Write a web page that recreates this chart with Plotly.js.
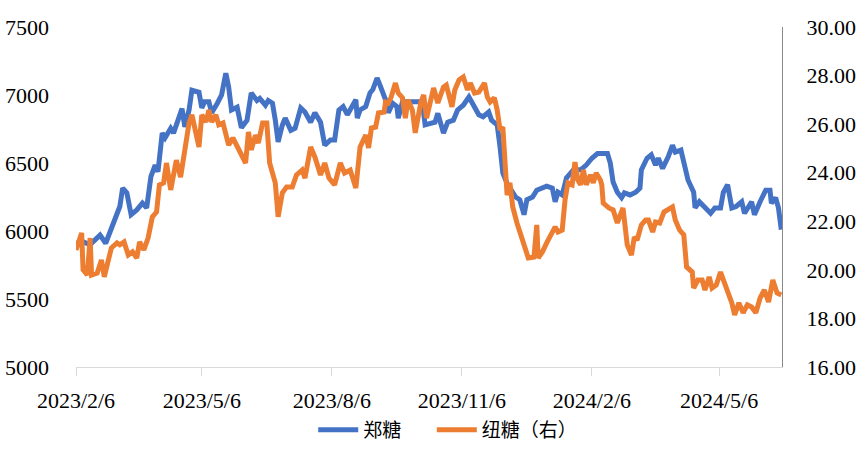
<!DOCTYPE html>
<html>
<head>
<meta charset="utf-8">
<script src="https://cdn.plot.ly/plotly-3.0.1.min.js"></script>
<style>
html,body{margin:0;padding:0;background:#fff;}
#chart{width:865px;height:454px;}
svg text{text-spacing-trim: space-all;}
</style>
</head>
<body>
<div id="chart"></div>
<script>
// 郑糖 (left axis)
const zzDates = ['2023-02-06','2023-02-11','2023-02-16','2023-02-23','2023-02-27','2023-03-02','2023-03-06','2023-03-09','2023-03-11','2023-03-14',
'2023-03-17','2023-03-21','2023-03-25','2023-03-28','2023-03-31','2023-04-03','2023-04-05','2023-04-08','2023-04-10','2023-04-14',
'2023-04-16','2023-04-19','2023-04-21','2023-04-22','2023-04-24','2023-04-27','2023-04-29','2023-05-04','2023-05-06','2023-05-08',
'2023-05-11','2023-05-13','2023-05-17','2023-05-20','2023-05-23','2023-05-25','2023-05-27','2023-05-31','2023-06-03','2023-06-07',
'2023-06-10','2023-06-14','2023-06-16','2023-06-20','2023-06-22','2023-06-25','2023-06-27','2023-06-29','2023-07-02','2023-07-04',
'2023-07-08','2023-07-11','2023-07-15','2023-07-18','2023-07-22','2023-07-25','2023-07-29','2023-08-01','2023-08-05','2023-08-08',
'2023-08-11','2023-08-14','2023-08-17','2023-08-20','2023-08-23','2023-08-24','2023-08-26','2023-08-30','2023-09-02','2023-09-04',
'2023-09-07','2023-09-09','2023-09-13','2023-09-15','2023-09-18','2023-09-21','2023-09-22','2023-09-25','2023-10-09','2023-10-11',
'2023-10-15','2023-10-18','2023-10-20','2023-10-24','2023-10-27','2023-10-31','2023-11-03','2023-11-07','2023-11-11','2023-11-14',
'2023-11-18','2023-11-21','2023-11-25','2023-11-27','2023-12-01','2023-12-03','2023-12-05','2023-12-08','2023-12-10','2023-12-14',
'2023-12-17','2023-12-20','2023-12-22','2023-12-26','2023-12-29','2024-01-02','2024-01-05','2024-01-09','2024-01-11','2024-01-13',
'2024-01-16','2024-01-19','2024-01-24','2024-01-29','2024-02-02','2024-02-06','2024-02-10','2024-02-17','2024-02-19','2024-02-21',
'2024-02-24','2024-02-27','2024-02-29','2024-03-04','2024-03-08','2024-03-11','2024-03-12','2024-03-16','2024-03-19','2024-03-22',
'2024-03-24','2024-03-27','2024-03-31','2024-04-03','2024-04-05','2024-04-09','2024-04-11','2024-04-14','2024-04-18','2024-04-19',
'2024-04-22','2024-04-26','2024-04-30','2024-05-03','2024-05-07','2024-05-09','2024-05-12','2024-05-15','2024-05-18','2024-05-22',
'2024-05-24','2024-05-29','2024-05-31','2024-06-04','2024-06-08','2024-06-11','2024-06-12','2024-06-15','2024-06-17','2024-06-19'];
const zzValues = [5910,5920,5900,5970,5910,5985,6100,6180,6315,6280,
6120,6155,6205,6170,6400,6485,6435,6720,6685,6755,
6720,6800,6850,6900,6765,6890,7035,7020,6905,6950,
6950,6870,6940,7000,7160,7060,6890,6910,6760,6815,
7015,6960,6975,6925,6960,6940,6815,6655,6780,6830,
6740,6755,6905,6875,6800,6870,6800,6630,6670,6670,
6890,6915,6855,6915,6965,6830,6890,6915,7015,7040,
7125,7075,6965,6870,6940,6915,6830,6950,6950,6780,
6795,6800,6865,6720,6800,6815,6890,6925,6985,6925,
6855,6840,6875,6815,6780,6620,6425,6350,6320,6250,
6230,6120,6230,6250,6300,6315,6330,6315,6215,6285,
6265,6390,6450,6450,6485,6535,6570,6570,6500,6360,
6285,6245,6280,6265,6285,6315,6450,6535,6560,6485,
6535,6460,6545,6630,6580,6595,6510,6375,6285,6170,
6215,6170,6130,6170,6170,6285,6340,6170,6180,6215,
6130,6215,6120,6215,6300,6300,6205,6245,6170,6010];

// 纽糖 (right axis)
const nyDates = ['2023-02-06','2023-02-10','2023-02-11','2023-02-14','2023-02-16','2023-02-17','2023-02-21','2023-02-24','2023-02-26','2023-02-28',
'2023-03-03','2023-03-07','2023-03-09','2023-03-12','2023-03-15','2023-03-18','2023-03-21','2023-03-23','2023-03-26','2023-03-29',
'2023-04-01','2023-04-04','2023-04-06','2023-04-09','2023-04-11','2023-04-14','2023-04-16','2023-04-18','2023-04-21','2023-04-24',
'2023-04-27','2023-04-29','2023-05-01','2023-05-04','2023-05-06','2023-05-09','2023-05-11','2023-05-13','2023-05-16','2023-05-18',
'2023-05-21','2023-05-23','2023-05-25','2023-05-28','2023-05-30','2023-06-02','2023-06-06','2023-06-08','2023-06-10','2023-06-13',
'2023-06-15','2023-06-18','2023-06-21','2023-06-23','2023-06-27','2023-06-29','2023-07-02','2023-07-05','2023-07-09','2023-07-12',
'2023-07-16','2023-07-18','2023-07-22','2023-07-25','2023-07-29','2023-08-01','2023-08-04','2023-08-08','2023-08-12','2023-08-15',
'2023-08-19','2023-08-23','2023-08-26','2023-08-30','2023-09-01','2023-09-03','2023-09-06','2023-09-08','2023-09-12','2023-09-13',
'2023-09-15','2023-09-17','2023-09-20','2023-09-22','2023-09-25','2023-09-27','2023-09-29','2023-10-02','2023-10-04','2023-10-08',
'2023-10-10','2023-10-12','2023-10-15','2023-10-17','2023-10-20','2023-10-24','2023-10-26','2023-10-30','2023-11-01','2023-11-04',
'2023-11-07','2023-11-10','2023-11-12','2023-11-15','2023-11-18','2023-11-22','2023-11-24','2023-11-26','2023-11-29','2023-12-01',
'2023-12-03','2023-12-05','2023-12-06','2023-12-07','2023-12-08','2023-12-10','2023-12-12','2023-12-15','2023-12-18','2023-12-21',
'2023-12-23','2023-12-27','2023-12-29','2023-12-30','2024-01-02','2024-01-05','2024-01-09','2024-01-11','2024-01-13','2024-01-16',
'2024-01-18','2024-01-20','2024-01-23','2024-01-25','2024-01-27','2024-01-29','2024-01-31','2024-02-02','2024-02-05','2024-02-07',
'2024-02-09','2024-02-12','2024-02-13','2024-02-14','2024-02-18','2024-02-21','2024-02-24','2024-02-26','2024-02-28','2024-03-02',
'2024-03-05','2024-03-07','2024-03-09','2024-03-12','2024-03-15','2024-03-17','2024-03-20','2024-03-22','2024-03-25','2024-03-28',
'2024-03-30','2024-04-03','2024-04-05','2024-04-08','2024-04-11','2024-04-13','2024-04-17','2024-04-18','2024-04-21','2024-04-24',
'2024-04-26','2024-04-29','2024-05-01','2024-05-04','2024-05-07','2024-05-10','2024-05-13','2024-05-15','2024-05-17','2024-05-20',
'2024-05-23','2024-05-26','2024-05-29','2024-06-01','2024-06-04','2024-06-07','2024-06-10','2024-06-13','2024-06-16','2024-06-19'];
const nyValues = [20.82,21.52,20.00,19.79,21.31,19.79,19.87,20.41,19.71,20.28,
20.90,21.11,21.03,21.15,20.61,20.74,20.49,21.15,20.82,21.31,
22.18,22.38,23.50,23.58,24.40,23.29,23.99,24.52,23.82,24.94,
26.05,26.38,25.88,25.06,26.38,26.09,26.58,26.09,26.38,25.97,
26.05,25.55,25.14,25.43,25.22,24.81,24.40,25.68,24.94,25.55,
25.22,26.05,26.05,24.40,23.58,22.18,23.17,23.41,23.41,23.91,
24.11,23.78,25.06,24.65,23.91,24.40,23.78,23.50,24.40,23.99,
24.11,23.37,25.06,25.55,25.02,25.84,25.88,26.46,26.50,26.91,
26.87,27.12,27.69,27.28,27.08,26.25,27.00,26.58,25.64,26.90,
27.20,26.25,27.12,27.49,26.87,27.53,27.61,26.71,27.41,27.82,
27.94,27.41,27.69,27.28,27.32,27.69,27.12,26.91,27.08,26.58,
25.76,25.88,24.94,24.24,23.08,23.58,22.59,21.93,21.35,20.70,
20.49,20.53,21.85,20.49,20.74,21.11,21.56,21.77,21.56,21.64,
22.88,23.58,23.50,24.44,23.70,23.50,24.11,23.50,23.91,23.58,
23.99,23.70,23.50,22.75,22.55,22.47,21.93,22.26,22.55,21.03,
20.61,21.35,21.23,21.85,22.05,22.05,21.56,21.97,21.93,22.38,
22.47,22.59,22.05,21.64,21.44,20.12,19.91,19.25,19.58,19.58,
19.17,19.71,19.25,19.38,19.91,19.46,18.97,18.64,18.14,18.64,
18.23,18.56,18.47,18.23,18.84,19.17,18.68,19.58,19.05,18.97];

const xTickVals = ['2023-02-06','2023-05-06','2023-08-06','2023-11-06','2024-02-06','2024-05-06'];
const xTickText = ['2023/2/6','2023/5/6','2023/8/6','2023/11/6','2024/2/6','2024/5/6'];
const leftTicks = [5000,5500,6000,6500,7000,7500];
const rightTicks = [16,18,20,22,24,26,28,30];
const seriesNames = ['郑糖','纽糖（右）'];

const FONT = "'Liberation Serif', 'Times New Roman', 'Noto Sans CJK SC', serif";
const CJK = "'Noto Sans CJK SC', 'Liberation Serif', serif";

const traces = [
  {x: zzDates, y: zzValues, name: seriesNames[0], type: 'scatter', mode: 'lines',
   line: {color: '#4472C4', width: 5}, yaxis: 'y', legend: 'legend'},
  {x: nyDates, y: nyValues, name: seriesNames[1], type: 'scatter', mode: 'lines',
   line: {color: '#ED7D31', width: 5}, yaxis: 'y2', legend: 'legend2'}
];

const legendBase = {orientation: 'h', xanchor: 'left', y: -0.185, yanchor: 'middle',
  font: {family: CJK, size: 19, color: '#000000'}, itemwidth: 40, bgcolor: 'rgba(0,0,0,0)'};

const layout = {
  width: 865, height: 454,
  margin: {l: 76, r: 83, t: 27, b: 87, autoexpand: false},
  paper_bgcolor: '#ffffff', plot_bgcolor: '#ffffff',
  font: {family: FONT, size: 22, color: '#000000'},
  showlegend: true,
  legend: Object.assign({}, legendBase, {x: 0.336}),
  legend2: Object.assign({}, legendBase, {x: 0.504}),
  xaxis: {
    type: 'date', range: ['2023-02-06', '2024-06-19 12:00'],
    tickvals: xTickVals, ticktext: xTickText,
    ticks: 'outside', ticklen: 8, tickcolor: '#d9d9d9', tickwidth: 1,
    showline: true, linecolor: '#d9d9d9', linewidth: 1,
    showgrid: false, zeroline: false, automargin: false,
    ticklabelstandoff: 6,
    tickfont: {family: FONT, size: 22, color: '#000000'}
  },
  yaxis: {
    range: [5000, 7500], tickvals: leftTicks,
    showgrid: false, zeroline: false, showline: false, ticks: '', automargin: false,
    ticklabelstandoff: 26,
    tickfont: {family: FONT, size: 22, color: '#000000'}
  },
  yaxis2: {
    overlaying: 'y', side: 'right', range: [16, 30], tickvals: rightTicks,
    tickformat: '.2f', automargin: false,
    showgrid: false, zeroline: false, showline: true, linecolor: '#898989', linewidth: 1,
    ticks: '', ticklabelstandoff: 19,
    tickfont: {family: FONT, size: 22, color: '#000000'}
  }
};

Plotly.newPlot('chart', traces, layout, {displayModeBar: false, staticPlot: true});
</script>
</body>
</html>
